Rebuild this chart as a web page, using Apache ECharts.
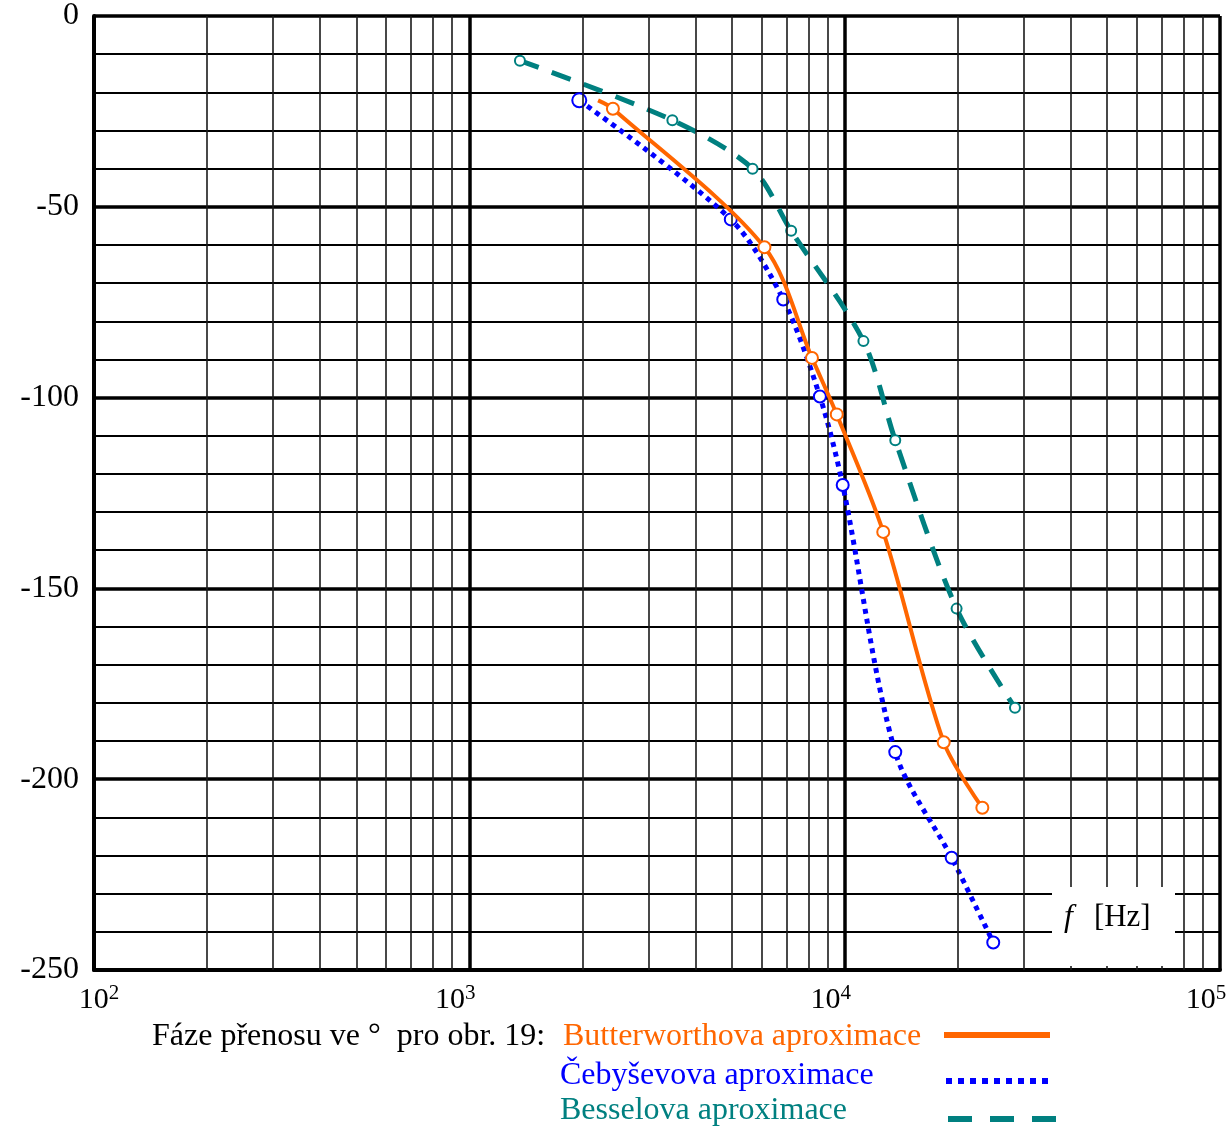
<!DOCTYPE html>
<html>
<head>
<meta charset="utf-8">
<script src="https://cdn.jsdelivr.net/npm/echarts@6/dist/echarts.min.js"></script>
<style>
html,body{margin:0;padding:0;background:#fff;overflow:hidden;}
#c{width:1228px;height:1128px;}
</style>
</head>
<body>
<div id="c"></div>
<script>
// ---- data ----
const butterFreq  = [2203, 2413, 6113, 8183, 9526, 12670, 18360, 23270];
const butterPhase = [-22.1, -24.3, -60.6, -89.6, -104.4, -135.2, -190.3, -207.5];
const butterMarked = [false, true, true, true, true, true, true, true];

const chebFreq  = [1963, 4973, 6861, 8590, 9880, 13640, 19280, 24880];
const chebPhase = [-22.1, -53.3, -74.3, -99.7, -122.9, -192.9, -220.6, -242.8];

const besselFreq  = [1364, 3475, 5683, 7202, 11220, 13640, 19870, 28430];
const besselPhase = [-11.7, -27.3, -40.0, -56.3, -85.2, -111.2, -155.3, -181.3];

const xMin = 100, xMax = 100000;
const yMin = -250, yMax = 0, yStep = 50, yMinorSplit = 5;
const minorFreqs = [200,300,400,500,600,700,800,900,
                    2000,3000,4000,5000,6000,7000,8000,9000,
                    20000,30000,40000,50000,60000,70000,80000,90000];

const titleText = 'Fáze přenosu ve °  pro obr. 19:';
const seriesNames = ['Butterworthova aproximace', 'Čebyševova aproximace', 'Besselova aproximace'];
const axisUnitLabel = '[Hz]';

// ---- styles ----
const FONT = '"Liberation Serif", "Times New Roman", serif';
const ORANGE = '#ff6600', BLUE = '#0000ff', TEAL = '#008080';

const chart = echarts.init(document.getElementById('c'), null, {renderer: 'canvas'});

const zip = (xs, ys) => xs.map((x, i) => [x, ys[i]]);

const butterData = butterFreq.map((f, i) => butterMarked[i]
  ? [f, butterPhase[i]]
  : {value: [f, butterPhase[i]], symbol: 'none'});

const chebData = zip(chebFreq, chebPhase).map((p, i) => i === 0 ? {value: p, symbolSize: 14, itemStyle: {borderWidth: 4.5}} : p);

const SMOOTH = 0.3;

const option = {
  animation: false,
  backgroundColor: '#fff',
  grid: {left: 94, right: 8, top: 16, bottom: 158, containLabel: false, outerBoundsMode: 'none'},
  xAxis: {
    type: 'log',
    logBase: 10,
    min: xMin,
    max: xMax,
    axisLine: {show: true, onZero: false, lineStyle: {color: '#000', width: 4}},
    axisTick: {show: false},
    splitLine: {show: true, lineStyle: {color: '#000', width: 3.5}},
    axisLabel: {
      margin: 13,
      color: '#000',
      fontFamily: FONT,
      hideOverlap: false,
      formatter: function (v) {
        const e = Math.round(Math.log10(v));
        return e === 2 ? '{b2|10}{s|' + e + '}' : '{b|10}{s2|' + e + '}';
      },
      rich: {
        b:  {fontSize: 30, fontFamily: FONT, color: '#000', lineHeight: 34},
        b2: {fontSize: 30, fontFamily: FONT, color: '#000', lineHeight: 34, padding: [0, 0, 0, 10]},
        s:  {fontSize: 21, fontFamily: FONT, color: '#000', lineHeight: 14, verticalAlign: 'top'},
        s2: {fontSize: 21, fontFamily: FONT, color: '#000', lineHeight: 14, verticalAlign: 'top', padding: [0, 28, 0, 0]}
      }
    }
  },
  yAxis: {
    type: 'value',
    min: yMin,
    max: yMax,
    interval: yStep,
    axisLine: {show: true, onZero: false, lineStyle: {color: '#000', width: 4}},
    axisTick: {show: false},
    minorTick: {show: false, splitNumber: yMinorSplit},
    minorSplitLine: {show: true, lineStyle: {color: '#000', width: 2}},
    splitLine: {show: true, lineStyle: {color: '#000', width: 3.5}},
    axisLabel: {margin: 15, color: '#000', fontSize: 32, fontFamily: FONT}
  },
  series: [
    {
      name: 'minor-grid',
      type: 'line',
      z: 1,
      silent: true,
      data: [[xMin, yMin]],
      showSymbol: false,
      symbol: 'none',
      lineStyle: {width: 0, opacity: 0},
      markLine: {
        silent: true,
        animation: false,
        symbol: ['none', 'none'],
        label: {show: false},
        emphasis: {disabled: true},
        lineStyle: {color: '#1a1a1a', width: 1.6, type: 'solid'},
        data: minorFreqs.map(f => ({xAxis: f}))
      }
    },
    {
      name: seriesNames[0],
      type: 'line',
      z: 5,
      smooth: SMOOTH,
      data: butterData,
      symbol: 'emptyCircle',
      symbolSize: 12,
      lineStyle: {color: ORANGE, width: 4},
      itemStyle: {color: ORANGE, borderColor: ORANGE, borderWidth: 3.5}
    },
    {
      name: seriesNames[1],
      type: 'line',
      z: 4,
      smooth: SMOOTH,
      data: chebData,
      symbol: 'emptyCircle',
      symbolSize: 12,
      lineStyle: {color: BLUE, width: 5, type: [5, 5], cap: 'butt'},
      itemStyle: {color: BLUE, borderColor: BLUE, borderWidth: 3.5}
    },
    {
      name: seriesNames[2],
      type: 'line',
      z: 3,
      smooth: SMOOTH,
      data: zip(besselFreq, besselPhase),
      symbol: 'emptyCircle',
      symbolSize: 10,
      lineStyle: {color: TEAL, width: 5, type: [20, 14], cap: 'butt'},
      itemStyle: {color: TEAL, borderColor: TEAL, borderWidth: 3}
    }
  ],
  graphic: [
    // white box behind the axis unit label
    {type: 'rect', z: 20, shape: {x: 1052, y: 887, width: 123, height: 79}, style: {fill: '#fff'}},
    {type: 'text', z: 21, x: 1064, y: 918,
      style: {text: '{i|f}{n|' + axisUnitLabel + '}', verticalAlign: 'middle', textVerticalAlign: 'middle',
        rich: {i: {fontStyle: 'italic', fontSize: 32, fontFamily: FONT, fill: '#000', color: '#000', padding: [0, 21, 0, 0]},
               n: {fontSize: 31, fontFamily: FONT, fill: '#000', color: '#000'}}}},
    // legend
    {type: 'text', x: 152, y: 1037, style: {text: titleText, fontSize: 32, fontFamily: FONT, fill: '#000', verticalAlign: 'middle', textVerticalAlign: 'middle'}},
    {type: 'text', x: 563, y: 1037, style: {text: seriesNames[0], fontSize: 32, fontFamily: FONT, fill: ORANGE, verticalAlign: 'middle', textVerticalAlign: 'middle'}},
    {type: 'text', x: 560, y: 1076, style: {text: seriesNames[1], fontSize: 32, fontFamily: FONT, fill: BLUE, verticalAlign: 'middle', textVerticalAlign: 'middle'}},
    {type: 'text', x: 560, y: 1111, style: {text: seriesNames[2], fontSize: 32, fontFamily: FONT, fill: TEAL, verticalAlign: 'middle', textVerticalAlign: 'middle'}},
    {type: 'line', shape: {x1: 944, y1: 1035, x2: 1050, y2: 1035}, style: {stroke: ORANGE, lineWidth: 6}},
    {type: 'line', shape: {x1: 946, y1: 1081, x2: 1052, y2: 1081}, style: {stroke: BLUE, lineWidth: 6, lineDash: [6, 6]}},
    {type: 'line', shape: {x1: 948, y1: 1119, x2: 1056, y2: 1119}, style: {stroke: TEAL, lineWidth: 6, lineDash: [24, 18]}}
  ]
};

chart.setOption(option);
</script>
</body>
</html>
